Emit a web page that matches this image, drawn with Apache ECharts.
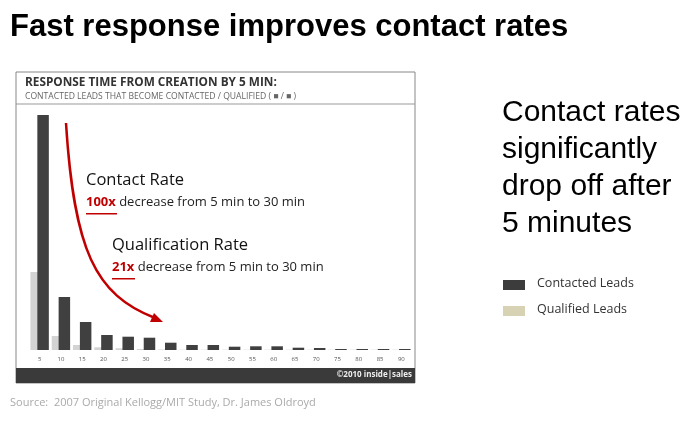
<!DOCTYPE html><html><head><meta charset="utf-8"><script src="https://cdn.jsdelivr.net/npm/echarts@6/dist/echarts.min.js"></script>
<style>html,body{margin:0;background:#fff}#c{width:696px;height:425px}</style></head><body><div id="c"></div><script>
const categories=['5','10','15','20','25','30','35','40','45','50','55','60','65','70','75','80','85','90'];
const contacted=[235,53,28,15,13.3,12.3,7.3,5,5,3.3,3.7,3.7,2.3,2,1,1,1,1];
const qualified=[78,14,5,2.7,1.7,1,0.5,0.3,0.3,0.3,0.3,0.3,0.3,0.3,0.3,0.3,0.3,0.3];
const F='"Open Sans", "Liberation Sans", sans-serif';
const ch=echarts.init(document.getElementById('c'));
ch.setOption({
 animation:false,
 grid:{left:29,right:284,top:114,bottom:75},
 xAxis:{type:'category',data:categories,axisLine:{show:false},axisTick:{show:false},
   axisLabel:{fontSize:6,color:'#555',margin:6,fontFamily:F}},
 yAxis:{type:'value',min:0,max:236,show:false,splitLine:{show:false}},
 series:[
  {type:'bar',data:qualified,barWidth:11.5,barGap:'-40%',itemStyle:{color:'#d3d3d3'}},
  {type:'bar',data:contacted,barWidth:11.5,itemStyle:{color:'#404040'}}
 ],
 graphic:[
  {type:'rect',shape:{x:16,y:72,width:399,height:311},style:{fill:'none',stroke:'#888',lineWidth:1},z:-1},
  {type:'line',shape:{x1:16,y1:104,x2:415,y2:104},style:{stroke:'#999',lineWidth:1}},
  {type:'rect',shape:{x:16,y:368,width:399,height:15},style:{fill:'#3a3a3a'}},
  {type:'text',right:284,top:371,style:{text:'©2010 inside|sales',fill:'#eee',font:'bold 8px '+F}},
  {type:'text',left:25,top:77,style:{text:'RESPONSE TIME FROM CREATION BY 5 MIN:',fill:'#333',font:'bold 11.8px '+F}},
  {type:'text',left:25,top:92,style:{text:'CONTACTED LEADS THAT BECOME CONTACTED / QUALIFIED ( \u25A0 / \u25A0 )',fill:'#666',font:'8.6px '+F}},
  {type:'text',left:10,top:12,style:{text:'Fast response improves contact rates',fill:'#000',font:'bold 31px "Liberation Sans", Arial, sans-serif'}},
  {type:'text',left:502,top:94,style:{text:'Contact rates\nsignificantly\ndrop off after\n5 minutes',fill:'#000',font:'30px "Liberation Sans", Arial, sans-serif',lineHeight:37}},
  {type:'rect',shape:{x:503,y:280,width:22,height:10},style:{fill:'#3c3c3c'}},
  {type:'rect',shape:{x:503,y:306,width:22,height:10},style:{fill:'#d8d2b4'}},
  {type:'text',left:537,top:277,style:{text:'Contacted Leads',fill:'#333',font:'12.5px '+F}},
  {type:'text',left:537,top:303,style:{text:'Qualified Leads',fill:'#333',font:'12.5px '+F}},
  {type:'text',left:10,top:397,style:{text:'Source:  2007 Original Kellogg/MIT Study, Dr. James Oldroyd',fill:'#aaa',font:'11px '+F}},
  {type:'text',left:86,top:172,style:{text:'Contact Rate',fill:'#111',font:'16.5px '+F}},
  {type:'text',left:86,top:196,style:{rich:{r:{fill:'#c00000',fontWeight:'bold',fontSize:13,fontFamily:F},t:{fill:'#222',fontSize:13,fontFamily:F}},text:'{r|100x} {t|decrease from 5 min to 30 min}'}},
  {type:'rect',shape:{x:86,y:213,width:31,height:1.5},style:{fill:'#c00000'}},
  {type:'text',left:112,top:237,style:{text:'Qualification Rate',fill:'#111',font:'16.5px '+F}},
  {type:'text',left:112,top:261,style:{rich:{r:{fill:'#c00000',fontWeight:'bold',fontSize:13,fontFamily:F},t:{fill:'#222',fontSize:13,fontFamily:F}},text:'{r|21x} {t|decrease from 5 min to 30 min}'}},
  {type:'rect',shape:{x:112,y:278,width:23,height:1.5},style:{fill:'#c00000'}},
  {type:'bezierCurve',shape:{x1:66,y1:123,x2:155,y2:318,cpx1:74,cpy1:250,cpx2:95,cpy2:295},style:{stroke:'#c00000',lineWidth:2.5,fill:'none'}},
  {type:'polygon',shape:{points:[[163,322],[150,322],[154,313]]},style:{fill:'#c00000'}}
 ]
});
</script></body></html>
